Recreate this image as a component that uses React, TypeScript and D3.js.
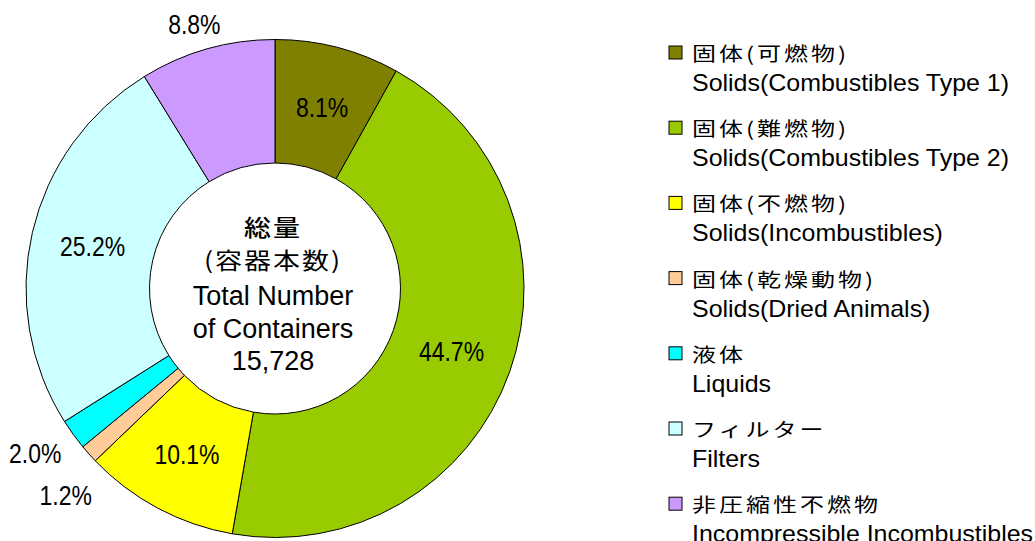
import * as d3 from "d3"

const categoriesJa = ["固体(可燃物)", "固体(難燃物)", "固体(不燃物)", "固体(乾燥動物)", "液体", "フィルター", "非圧縮性不燃物"]
const categoriesEn = [
  "Solids(Combustibles Type 1)",
  "Solids(Combustibles Type 2)",
  "Solids(Incombustibles)",
  "Solids(Dried Animals)",
  "Liquids",
  "Filters",
  "Incompressible Incombustibles",
]
const shares = [8.1, 44.7, 10.1, 1.2, 2.0, 25.2, 8.8]
const colors = ["#808000", "#99CC00", "#FFFF00", "#FFCC99", "#00FFFF", "#CCFFFF", "#CC99FF"]
// labels drawn outside the ring
const outsideLabels = ["固体(乾燥動物)", "液体", "非圧縮性不燃物"]

const centerJa = ["総量", "(容器本数)"]
const centerEn = ["Total Number", "of Containers", "15,728"]

const LATIN = "'Liberation Sans', Arial, sans-serif"
const CJK = "'Noto Sans CJK JP', sans-serif"

const App = () => {
  const width = 1035
  const height = 541
  const cx = 275
  const cy = 288.5
  const outerR = 249
  const innerR = 125.5

  const data = shares.map((v, i) => ({ ja: categoriesJa[i], en: categoriesEn[i], value: v, color: colors[i] }))

  const pie = d3
    .pie<any>()
    .sort(null)
    .value((d) => d.value)
    .startAngle(0)
    .endAngle(2 * Math.PI)
  const arcs = pie(data)
  const arc = d3.arc<any>().innerRadius(innerR).outerRadius(outerR)

  // label centres; outside ones pushed out by half the text box, then spread apart
  const labels = arcs.map((a) => {
    const mid = (a.startAngle + a.endAngle) / 2
    if (outsideLabels.includes(a.data.ja)) {
      const s = Math.sin(mid)
      const c = -Math.cos(mid)
      const r = 266
      return { a, x: s * (r + 30), y: c * (r + 11) + 2, out: true }
    }
    const [x, y] = arc.centroid(a)
    return { a, x, y, out: false }
  })
  const outs = labels.filter((l) => l.out && l.x < 0 && l.y > 0).sort((p, q) => p.y - q.y)
  for (let i = 1; i < outs.length; i++) {
    const sep = outs[i].y - outs[i - 1].y
    if (sep < 42) {
      outs[i].y += 42 - sep
      outs[i].x += 12
    }
  }

  // legend layout
  const legendX = 669
  const legendY0 = 53
  const legendStep = 75.2

  return (
    <svg width={width} height={height} style={{ position: "absolute", left: 0, top: 0, background: "#fff" }}>
      <g transform={`translate(${cx},${cy})`}>
        {arcs.map((a, i) => (
          <path key={i} d={arc(a) as string} fill={a.data.color} stroke="#000" strokeWidth={1} />
        ))}
        {labels.map((l, i) => (
          <text
            key={"l" + i}
            transform={`translate(${l.x},${l.y + 10}) scale(0.82,1)`}
            textAnchor="middle"
            fontFamily={LATIN}
            fontSize={28}
            fill="#000"
          >
            {l.a.data.value.toFixed(1)}%
          </text>
        ))}
        {centerJa.map((t, i) => (
          <text
            key={"cj" + i}
            transform={`translate(-2,${-60 + i * 33 + 7}) scale(1,0.85)`}
            textAnchor="middle"
            fontFamily={CJK}
            fontSize={27}
            fontWeight={i === 0 ? 500 : 400}
            letterSpacing={2}
            fill="#000"
          >
            {t}
          </text>
        ))}
        {centerEn.map((t, i) => (
          <text
            key={"ce" + i}
            x={-2}
            y={16.5 + i * 32.5}
            textAnchor="middle"
            fontFamily={LATIN}
            fontSize={27}
            fill="#000"
          >
            {t}
          </text>
        ))}
      </g>

      <g>
        {data.map((d, i) => {
          const y = legendY0 + i * legendStep
          return (
            <g key={"lg" + i}>
              <rect x={legendX} y={y - 7} width={13} height={13} fill={d.color} stroke="#000" strokeWidth={1} />
              <text
                transform={`translate(${legendX + 23},${y + 8}) scale(1,0.8)`}
                fontFamily={CJK}
                fontSize={24}
                letterSpacing={3}
                fill="#000"
              >
                {d.ja}
              </text>
              <text
                transform={`translate(${legendX + 23},${y + 38}) scale(1.04,1)`}
                fontFamily={LATIN}
                fontSize={24}
                fill="#000"
              >
                {d.en}
              </text>
            </g>
          )
        })}
      </g>
    </svg>
  )
}

export default App
